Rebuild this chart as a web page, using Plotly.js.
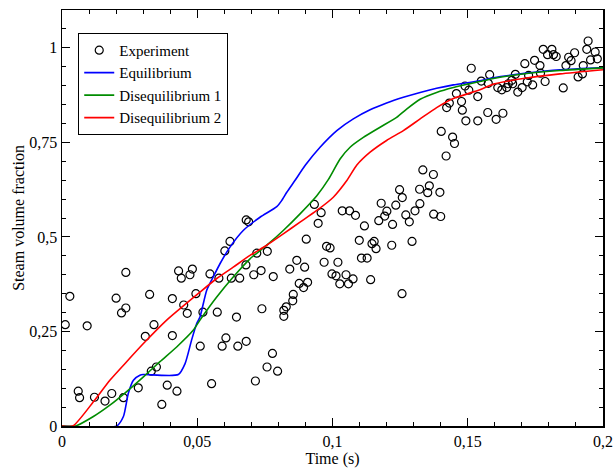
<!DOCTYPE html>
<html>
<head>
<meta charset="utf-8">
<script src="https://cdn.plot.ly/plotly-3.0.1.min.js"></script>
<style>html,body{margin:0;padding:0;background:#fff;}#chart{width:616px;height:470px;}</style>
</head>
<body>
<div id="chart"></div>
<script>
// Experimental data
const expX = [0.0012,0.0029,0.0060,0.0065,0.0093,0.0120,0.0159,0.0184,0.0200,0.0220,0.0227,0.0236,0.0236,0.0282,0.0308,0.0324,0.0330,0.0340,0.0349,0.0369,0.0389,0.0408,0.0408,0.0425,0.0431,0.0441,0.0450,0.0463,0.0473,0.0482,0.0495,0.0511,0.0521,0.0547,0.0553,0.0574,0.0580,0.0592,0.0602,0.0606,0.0621,0.0626,0.0645,0.0650,0.0657,0.0680,0.0681,0.0681,0.0690,0.0709,0.0715,0.0720,0.0736,0.0739,0.0758,0.0759,0.0778,0.0781,0.0797,0.0820,0.0820,0.0829,0.0842,0.0853,0.0855,0.0868,0.0877,0.0893,0.0897,0.0903,0.0908,0.0933,0.0947,0.0958,0.0969,0.0978,0.0991,0.0998,0.1013,0.1020,0.1027,0.1036,0.1050,0.1059,0.1063,0.1076,0.1085,0.1099,0.1107,0.1118,0.1128,0.1141,0.1146,0.1154,0.1161,0.1171,0.1180,0.1193,0.1201,0.1219,0.1222,0.1234,0.1248,0.1257,0.1258,0.1271,0.1284,0.1294,0.1305,0.1322,0.1323,0.1334,0.1352,0.1358,0.1373,0.1374,0.1397,0.1400,0.1402,0.1420,0.1422,0.1432,0.1444,0.1451,0.1458,0.1477,0.1480,0.1490,0.1493,0.1504,0.1513,0.1537,0.1537,0.1550,0.1574,0.1576,0.1581,0.1605,0.1611,0.1626,0.1630,0.1644,0.1650,0.1663,0.1666,0.1676,0.1685,0.1701,0.1711,0.1720,0.1725,0.1740,0.1747,0.1767,0.1769,0.1779,0.1786,0.1795,0.1811,0.1817,0.1827,0.1853,0.1863,0.1873,0.1882,0.1895,0.1908,0.1924,0.1927,0.1940,0.1945,0.1954,0.1971,0.1979];
const expY = [0.268,0.343,0.092,0.075,0.265,0.076,0.066,0.086,0.338,0.299,0.075,0.312,0.406,0.101,0.237,0.348,0.145,0.268,0.156,0.057,0.108,0.239,0.337,0.092,0.410,0.391,0.320,0.298,0.400,0.415,0.350,0.211,0.301,0.402,0.112,0.301,0.391,0.211,0.463,0.233,0.488,0.391,0.288,0.211,0.391,0.426,0.224,0.545,0.540,0.400,0.119,0.457,0.411,0.310,0.156,0.462,0.192,0.395,0.145,0.290,0.306,0.315,0.415,0.331,0.348,0.438,0.377,0.366,0.420,0.494,0.380,0.586,0.536,0.564,0.433,0.475,0.471,0.402,0.397,0.433,0.376,0.569,0.400,0.376,0.569,0.389,0.557,0.491,0.444,0.529,0.444,0.387,0.482,0.488,0.469,0.543,0.589,0.555,0.568,0.478,0.533,0.584,0.625,0.350,0.604,0.558,0.540,0.488,0.569,0.626,0.588,0.677,0.617,0.635,0.665,0.560,0.618,0.554,0.779,0.714,0.842,0.854,0.764,0.747,0.879,0.858,0.835,0.899,0.807,0.888,0.946,0.871,0.807,0.912,0.829,0.906,0.929,0.811,0.895,0.889,0.827,0.895,0.905,0.914,0.905,0.930,0.883,0.895,0.958,0.910,0.927,0.902,0.967,0.953,0.933,0.996,0.911,0.982,0.996,0.982,0.977,0.894,0.953,0.975,0.966,0.987,0.923,0.931,0.953,0.996,1.018,0.968,0.989,0.971];

// Equilibrium model
const eqX = [0,0.0202,0.0227,0.0245,0.0264,0.0288,0.0300,0.0430,0.0455,0.0479,0.0498,0.0510,0.0535,0.0559,0.0584,0.0621,0.0670,0.0732,0.0794,0.0812,0.0831,0.0861,0.0900,0.0954,0.1016,0.1077,0.1139,0.1200,0.1262,0.1324,0.1385,0.1447,0.1545,0.1595,0.1718,0.1841,0.2];
const eqY = [0,0,0.025,0.086,0.121,0.134,0.136,0.136,0.165,0.227,0.271,0.288,0.359,0.394,0.429,0.473,0.517,0.552,0.580,0.596,0.618,0.649,0.690,0.737,0.781,0.812,0.836,0.854,0.869,0.882,0.893,0.902,0.913,0.921,0.933,0.942,0.948];

// Disequilibrium 1 model
const d1X = [0,0.005,0.0116,0.0177,0.0239,0.0301,0.0362,0.0424,0.0485,0.0510,0.0572,0.0633,0.0695,0.0757,0.0818,0.0880,0.0942,0.0985,0.1028,0.1065,0.1114,0.1176,0.1237,0.1274,0.1324,0.1385,0.1447,0.1545,0.1595,0.1718,0.1841,0.2];
const d1Y = [0,0,0.025,0.055,0.091,0.130,0.170,0.209,0.253,0.280,0.341,0.394,0.442,0.478,0.517,0.561,0.609,0.652,0.706,0.737,0.763,0.790,0.816,0.838,0.864,0.882,0.895,0.911,0.919,0.932,0.940,0.947];

// Disequilibrium 2 model
const d2X = [0,0.004,0.0116,0.0177,0.0239,0.0301,0.0387,0.0510,0.0572,0.0633,0.0695,0.0757,0.0818,0.0880,0.0942,0.1003,0.1053,0.1090,0.1139,0.1200,0.1262,0.1324,0.1385,0.1447,0.1545,0.1595,0.1718,0.1841,0.2];
const d2Y = [0,0,0.064,0.121,0.170,0.218,0.280,0.354,0.390,0.420,0.451,0.478,0.508,0.539,0.570,0.605,0.649,0.690,0.724,0.755,0.781,0.812,0.842,0.866,0.889,0.904,0.920,0.931,0.942];

const xTickVals = [0,0.05,0.1,0.15,0.2];
const xTickText = ['0','0,05','0,1','0,15','0,2'];
const yTickVals = [0,0.25,0.5,0.75,1];
const yTickText = ['0','0,25','0,5','0,75','1'];

const serif = 'Liberation Serif, Times New Roman, serif';

const traces = [
  {x: expX, y: expY, type:'scatter', mode:'markers', name:'Experiment',
   marker:{symbol:'circle-open', size:8, color:'#000', line:{width:1.2, color:'#000'}}},
  {x: eqX, y: eqY, type:'scatter', mode:'lines', name:'Equilibrium',
   line:{color:'#0000ff', width:1.6, shape:'spline', smoothing:0.6}},
  {x: d1X, y: d1Y, type:'scatter', mode:'lines', name:'Disequilibrium 1',
   line:{color:'#008c00', width:1.6, shape:'spline', smoothing:0.6}},
  {x: d2X, y: d2Y, type:'scatter', mode:'lines', name:'Disequilibrium 2',
   line:{color:'#ff0000', width:1.6, shape:'spline', smoothing:0.6}}
];

const axisCommon = {
  showgrid:false, zeroline:false, showline:true, linecolor:'#000', linewidth:1.5,
  mirror:'allticks', ticks:'inside', ticklen:8, tickwidth:1, tickcolor:'#000',
  tickfont:{family:serif, size:16, color:'#000'}, tickmode:'array'
};

const layout = {
  width:616, height:470,
  margin:{l:62, r:13, t:10, b:44},
  paper_bgcolor:'#fff', plot_bgcolor:'#fff',
  showlegend:true,
  legend:{x:0.03, y:0.945, xanchor:'left', yanchor:'top', bgcolor:'#fff',
          bordercolor:'#000', borderwidth:1, font:{family:serif, size:15, color:'#000'},
          tracegroupgap:0, itemwidth:30},
  xaxis: Object.assign({}, axisCommon, {
    range:[0,0.2], tickvals:xTickVals, ticktext:xTickText,
    minor:{tickmode:'linear', tick0:0, dtick:0.01, ticks:'inside', ticklen:4, tickcolor:'#000'},
    title:{text:'Time (s)', font:{family:serif, size:16, color:'#000'}, standoff:1}
  }),
  yaxis: Object.assign({}, axisCommon, {
    range:[0,1.1], tickvals:yTickVals, ticktext:yTickText,
    minor:{tickmode:'linear', tick0:0, dtick:0.05, ticks:'inside', ticklen:4, tickcolor:'#000'},
    title:{text:'Steam volume fraction', font:{family:serif, size:16, color:'#000'}, standoff:0}
  })
};

Plotly.newPlot('chart', traces, layout, {displayModeBar:false, staticPlot:true});
</script>
</body>
</html>
